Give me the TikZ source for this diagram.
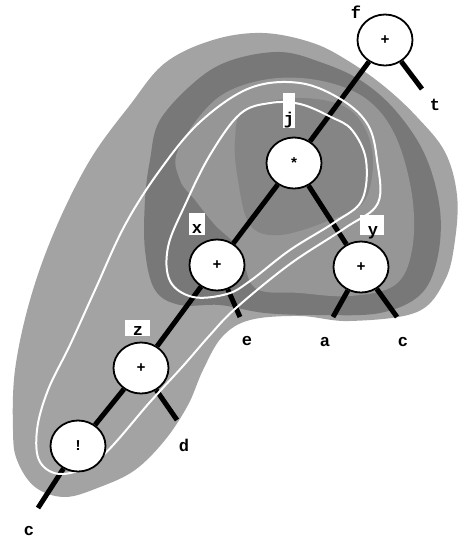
\documentclass[tikz,border=0pt]{standalone}
\usepackage{fontspec}
\newfontfamily\labfont{Liberation Mono}
\usetikzlibrary{shapes.geometric}
\pgfdeclarelayer{bg}
\pgfdeclarelayer{edgelayer}
\pgfdeclarelayer{contlayer}
\pgfsetlayers{bg,edgelayer,contlayer,main}
\tikzset{
  opnode/.style={ellipse, draw=black, line width=1.8pt, fill=white, minimum width=55pt, minimum height=51pt, inner sep=0pt, font=\labfont\bfseries\fontsize{15}{15}\selectfont},
  lbl/.style={font=\labfont\bfseries\fontsize{17}{17}\selectfont, inner sep=0pt, anchor=base},
  whitebox/.style={fill=white, draw=none, inner sep=0pt},
  treeedge/.style={line width=5pt, draw=black},
  contourline/.style={draw=white, line width=2pt},
  toneA/.style={fill=black!36, draw=none},
  toneB/.style={fill=black!53, draw=none},
  toneC/.style={fill=black!41, draw=none},
  toneD/.style={fill=black!48, draw=none},
}
\begin{document}
\begin{tikzpicture}[x=1pt,y=-1pt]
\useasboundingbox (0,0) rectangle (458,539);

% shaded regions
\begin{pgfonlayer}{bg}
\fill[white] (0,0) rectangle (458,539);
\path[toneA] plot[smooth cycle, tension=0.6] coordinates {
 (13,430) (15,370) (30,300) (55,230) (90,160) (130,105) (165,63) (213,40) (263,33) (313,43)
 (350,62) (385,87) (417,117) (445,152) (457,195) (455,240) (445,280) (417,312) (350,321)
 (300,316) (250,320) (222,337) (203,370) (188,405) (165,440) (135,470) (100,487) (65,497)
 (35,487) (17,460)};
\path[toneB] plot[smooth cycle, tension=0.6] coordinates {
 (160,120) (197,80) (232,60) (280,52) (320,62) (360,80) (395,110) (425,155) (440,210)
 (437,260) (420,295) (380,313) (320,315) (265,313) (220,305) (180,305) (155,290)
 (145,250) (145,200) (150,160)};
\path[toneC] plot[smooth cycle, tension=0.6] coordinates {
 (178,150) (215,100) (263,80) (317,80) (365,98) (395,135) (412,195) (412,250) (395,285)
 (350,296) (300,293) (255,288) (240,250) (215,225) (195,200) (180,180)};
\path[toneD] plot[smooth cycle, tension=0.6] coordinates {
 (245,110) (300,98) (350,110) (372,150) (365,200) (330,220) (280,235) (250,225)
 (238,180) (235,140)};
\end{pgfonlayer}

% nodes
\node[opnode] (f) at (385,40) {+};
\node[opnode] (j) at (294,163) {*};
\node[opnode] (x) at (217,265) {+};
\node[opnode] (y) at (361,267) {+};
\node[opnode] (z) at (141,368) {+};
\node[opnode] (n) at (78,446) {!};

\coordinate (tEnd) at (422,89);
\coordinate (eEnd) at (240,317);
\coordinate (aEnd) at (333,317);
\coordinate (cEnd) at (397,317);
\coordinate (dEnd) at (177,420);
\coordinate (cbEnd) at (38,508);

% white boxes behind labels
\node[whitebox, minimum width=12pt, minimum height=35pt] (jbox) at (289,110.5) {};
\node[whitebox, minimum width=16pt, minimum height=22pt] (xbox) at (197,224) {};
\node[whitebox, minimum width=24pt, minimum height=20pt] (ybox) at (372,225) {};
\node[whitebox, minimum width=25pt, minimum height=16pt] (zbox) at (137,328) {};

% labels
\node[lbl] (lf) at (356,18) {f};
\node[lbl] (lt) at (435,110) {t};
\node[lbl] (lj) at (289,124) {j};
\node[lbl] (lx) at (197,233) {x};
\node[lbl] (ly) at (373,235) {y};
\node[lbl] (lz) at (138,335) {z};
\node[lbl] (le) at (247,345) {e};
\node[lbl] (la) at (325,346) {a};
\node[lbl] (lc) at (403,346) {c};
\node[lbl] (ld) at (184,451) {d};
\node[lbl] (lcb) at (29,535.5) {c};

% edges
\begin{pgfonlayer}{edgelayer}
\draw[treeedge] (f) -- (tEnd);
\draw[treeedge] (f) -- (j);
\draw[treeedge] (j) -- (x);
\draw[treeedge] (j) -- (y);
\draw[treeedge] (x) -- (z);
\draw[treeedge] (x) -- (eEnd);
\draw[treeedge] (y) -- (aEnd);
\draw[treeedge] (y) -- (cEnd);
\draw[treeedge] (z) -- (n);
\draw[treeedge] (z) -- (dEnd);
\draw[treeedge] (n) -- (cbEnd);
\end{pgfonlayer}

% white contour lines
\begin{pgfonlayer}{contlayer}
\draw[contourline] plot[smooth cycle, tension=0.6] coordinates {
 (63,474) (100,458) (150,402) (183,366) (210,335) (236,308) (290,264) (345,228) (378,203)
 (377,160) (368,125) (342,100) (300,83) (250,88) (200,122) (160,170) (125,225) (95,290)
 (70,345) (48,390) (37,430) (40,462)};
\draw[contourline] plot[smooth cycle, tension=0.6] coordinates {
 (193,297) (227,294) (250,281) (290,250) (335,222) (362,200) (366,160) (352,130) (331,117)
 (300,104) (270,103) (240,114) (210,155) (185,205) (168,247) (170,281)};
\end{pgfonlayer}
\end{tikzpicture}
\end{document}
